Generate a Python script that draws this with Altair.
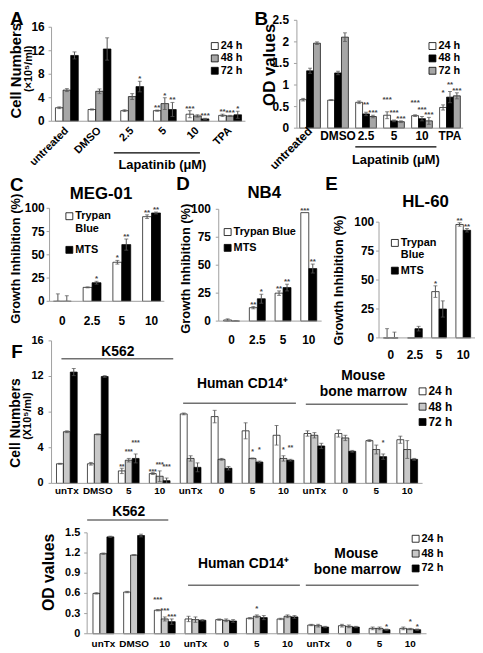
import altair as alt
import pandas as pd

FONT = "Liberation Sans"
EC = "#555555"
AX = "#a0a0a0"
M = 8

# ---------------- data ----------------
A_groups = ["untreated", "DMSO", "2.5", "5", "10", "TPA"]
A_series = ["24 h", "48 h", "72 h"]
A_24 = [2.3, 2.0, 1.8, 1.8, 1.2, 1.0]
A_24e = [0.15, 0.1, 0.15, 0.1, 0.6, 0.2]
A_48 = [5.3, 5.1, 4.2, 3.0, 0.9, 0.9]
A_48e = [0.25, 0.4, 0.5, 1.0, 0.2, 0.1]
A_72 = [11.2, 12.3, 5.9, 2.0, 0.4, 1.1]
A_72e = [0.6, 1.9, 0.9, 1.2, 0.1, 0.6]
A_s24 = ["", "", "", "**", "***", "**"]
A_s48 = ["", "", "", "*", "", "***"]
A_s72 = ["", "", "*", "**", "***", "*"]

B_24 = [0.66, 0.65, 0.60, 0.30, 0.29, 0.48]
B_24e = [0.03, 0.01, 0.03, 0.08, 0.02, 0.06]
B_48 = [1.33, 1.28, 0.33, 0.17, 0.22, 0.72]
B_48e = [0.06, 0.04, 0.04, 0.02, 0.05, 0.13]
B_72 = [1.97, 2.11, 0.27, 0.15, 0.17, 0.75]
B_72e = [0.03, 0.10, 0.03, 0.02, 0.08, 0.07]
B_s24 = ["", "", "", "***", "***", "*"]
B_s48 = ["", "", "**", "***", "***", "**"]
B_s72 = ["", "", "***", "***", "***", "***"]

GI_groups = ["0", "2.5", "5", "10"]
GI_series = ["Trypan Blue", "MTS"]
C_TB = [0, 15, 42, 91]
C_TBe = [8, 0.5, 2, 2]
C_MTS = [0, 20, 61, 95]
C_MTSe = [6, 1.5, 6, 1]
C_sTB = ["", "", "*", "**"]
C_sMTS = ["", "*", "**", "**"]

D_TB = [1, 12, 25, 97]
D_TBe = [1, 1, 2, 0]
D_MTS = [0, 20, 30, 47]
D_MTSe = [0.5, 4, 3, 4]
D_sTB = ["", "**", "**", "***"]
D_sMTS = ["", "*", "**", "**"]

E_TB = [0, 0, 40, 98]
E_TBe = [8, 0, 5, 1.5]
E_MTS = [0, 8, 25, 93]
E_MTSe = [5, 2, 7, 1.5]
E_sTB = ["", "", "*", "**"]
E_sMTS = ["", "", "", "**"]

F_groups = ["K_unTx", "K_DMSO", "K_5", "K_10", "H_unTx", "H_0", "H_5", "H_10",
            "M_unTx", "M_0", "M_5", "M_10"]
F_labels = ["unTx", "DMSO", "5", "10", "unTx", "0", "5", "10", "unTx", "0", "5", "10"]
F_24 = [2.2, 2.2, 1.4, 1.1, 7.8, 7.5, 5.9, 5.4, 5.6, 5.6, 4.8, 4.9]
F_24e = [0.05, 0.15, 0.3, 0.1, 0.1, 0.7, 0.9, 1.1, 0.3, 0.4, 0.1, 0.4]
F_48 = [5.8, 5.5, 2.6, 0.8, 2.8, 2.7, 2.8, 2.8, 5.4, 5.1, 3.8, 3.8]
F_48e = [0.1, 0.05, 0.2, 0.6, 0.3, 0.1, 0.05, 0.3, 0.3, 0.3, 0.5, 1.0]
F_72 = [12.5, 12.0, 2.8, 0.3, 1.8, 1.7, 2.4, 2.6, 4.2, 3.6, 3.0, 2.7]
F_72e = [0.4, 0.1, 0.5, 0.3, 0.5, 0.2, 0.1, 0.1, 0.3, 0.1, 0.3, 0.1]
F_s24 = ["", "", "**", "***", "", "", "", "", "", "", "", ""]
F_s48 = ["", "", "***", "***", "", "", "*", "*", "", "", "", ""]
F_s72 = ["", "", "***", "***", "", "", "*", "**", "", "", "*", ""]

G_groups = ["K_unTx", "K_DMSO", "K_10", "H_unTx", "H_0", "H_5", "H_10",
            "M_unTx", "M_0", "M_5", "M_10"]
G_labels = ["unTx", "DMSO", "10", "unTx", "0", "5", "10", "unTx", "0", "5", "10"]
G_24 = [0.60, 0.62, 0.35, 0.22, 0.21, 0.23, 0.22, 0.13, 0.12, 0.08, 0.08]
G_24e = [0.01, 0.01, 0.01, 0.04, 0.01, 0.01, 0.01, 0.01, 0.02, 0.02, 0.02]
G_48 = [1.19, 1.17, 0.22, 0.21, 0.20, 0.26, 0.26, 0.12, 0.11, 0.08, 0.07]
G_48e = [0.01, 0.005, 0.03, 0.04, 0.02, 0.02, 0.02, 0.02, 0.02, 0.02, 0.01]
G_72 = [1.44, 1.46, 0.18, 0.20, 0.19, 0.24, 0.25, 0.10, 0.10, 0.06, 0.06]
G_72e = [0.01, 0.02, 0.04, 0.01, 0.02, 0.03, 0.02, 0.01, 0.01, 0.01, 0.01]
G_s24 = ["", "", "***", "", "", "", "", "", "", "", ""]
G_s48 = ["", "", "***", "", "", "*", "", "", "", "", "*"]
G_s72 = ["", "", "***", "", "", "", "", "", "", "*", "*"]

A_ticks = [0, 4, 8, 12, 16]
B_ticks = [0, 0.5, 1, 1.5, 2, 2.5]
B_tlab = ["0", "0.5", "1", "1.5", "2", "2.5"]
GI_ticks = [0, 25, 50, 75, 100]
G_ticks = [0, 0.3, 0.6, 0.9, 1.2, 1.5]
G_tlab = ["0", "0.3", "0.6", "0.9", "1.2", "1.5"]


# ---------------- helpers ----------------
def P(v):
    return v - M


def band_width(xr, n, pi, po):
    step = (xr[1] - xr[0]) / (n - pi + 2 * po)
    return step * (1 - pi)


ONE = pd.DataFrame({"k": [0]})


def txt(s, x, y, size=12, angle=0, align="center", baseline="middle", weight="bold"):
    return alt.Chart(pd.DataFrame({"t": [s]})).mark_text(
        font=FONT, fontSize=size, fontWeight=weight, angle=angle, align=align,
        baseline=baseline, color="black").encode(
        x=alt.value(P(x)), y=alt.value(P(y)), text="t:N")


def hline(x0, x1, y, color="#707070", w=1.5):
    return alt.Chart(ONE).mark_rule(color=color, strokeWidth=w).encode(
        x=alt.value(P(x0)), x2=alt.value(P(x1)), y=alt.value(P(y)))


def panel(groups, labels, series, colors, vals, errs, stars, xr, pi, po,
          ytop, yr, ticks, ticklabs, tick_x, ytick_size, xlab_y, xlab_size,
          rotated=(), rot_y=None, star_size=8, stagger=0):
    rows = []
    for s, vs, es, ss in zip(series, vals, errs, stars):
        for g, v, e, st in zip(groups, vs, es, ss):
            rows.append(dict(grp=g, ser=s, v=v, lo=max(0.0, v - e), hi=v + e, e=e, star=st))
    df = pd.DataFrame(rows)
    bw = band_width(xr, len(groups), pi, po)
    X = alt.X("grp:N", sort=groups, axis=None,
              scale=alt.Scale(domain=groups, range=[P(xr[0]), P(xr[1])],
                              paddingInner=pi, paddingOuter=po))
    XO = alt.XOffset("ser:N", sort=series,
                     scale=alt.Scale(domain=series, range=[0, bw], paddingInner=0, paddingOuter=0))
    ys = alt.Scale(domain=[0, ytop], range=[P(yr[0]), P(yr[1])], nice=False, zero=False)

    def Y(f):
        return alt.Y(f, scale=ys, axis=None)

    Fl = alt.Fill("ser:N", sort=series, scale=alt.Scale(domain=series, range=colors), legend=None)
    bars = alt.Chart(df).mark_bar(stroke="black", strokeWidth=0.7).encode(
        x=X, xOffset=XO, y=Y("v:Q"), fill=Fl)
    de = df[df.e > 0]
    err = alt.Chart(de).mark_rule(color=EC, strokeWidth=1).encode(
        x=X, xOffset=XO, y=Y("lo:Q"), y2="hi:Q")
    caph = alt.Chart(de).mark_tick(color=EC, orient="horizontal", size=4, thickness=1).encode(
        x=X, xOffset=XO, y=Y("hi:Q"))
    capl = alt.Chart(de).mark_tick(color=EC, orient="horizontal", size=4, thickness=1).encode(
        x=X, xOffset=XO, y=Y("lo:Q"))
    layers = [bars, err, caph, capl]
    n = len(series)
    for i, s in enumerate(series):
        ds = df[(df.star != "") & (df.ser == s)]
        if len(ds):
            off = -stagger * (n - 1 - i) if stagger >= 0 else stagger * i
            layers.append(alt.Chart(ds).mark_text(
                font=FONT, fontSize=star_size, fontWeight="bold", color="#444",
                baseline="bottom", dy=2 + off).encode(
                x=X, xOffset=XO, y=Y("hi:Q"), text="star:N"))
    tk = pd.DataFrame({"t": ticks, "lab": ticklabs})
    yline = alt.Chart(pd.DataFrame({"a": [0], "b": [ytop]})).mark_rule(color=AX).encode(
        x=alt.value(P(xr[0])), y=Y("a:Q"), y2="b:Q")
    ytk = alt.Chart(tk).mark_rule(color=AX).encode(
        x=alt.value(P(xr[0]) - 3), x2=alt.value(P(xr[0])), y=Y("t:Q"))
    ylab = alt.Chart(tk).mark_text(font=FONT, fontSize=ytick_size, fontWeight="bold",
                                   align="right", baseline="middle").encode(
        x=alt.value(P(tick_x)), y=Y("t:Q"), text="lab:N")
    xline = alt.Chart(pd.DataFrame({"a": [0]})).mark_rule(color=AX).encode(
        x=alt.value(P(xr[0])), x2=alt.value(P(xr[1])), y=Y("a:Q"))
    layers += [yline, ytk, ylab, xline]
    xl = pd.DataFrame({"grp": groups, "lab": labels})
    flat = xl[~xl.grp.isin(list(rotated))]
    if len(flat):
        layers.append(alt.Chart(flat).mark_text(
            font=FONT, fontSize=xlab_size, fontWeight="bold", align="center", baseline="middle").encode(
            x=X, y=alt.value(P(xlab_y)), text="lab:N"))
    rot = xl[xl.grp.isin(list(rotated))]
    if len(rot):
        layers.append(alt.Chart(rot).mark_text(
            font=FONT, fontSize=xlab_size, fontWeight="bold", align="right", baseline="middle",
            angle=315).encode(
            x=X, y=alt.value(P(rot_y)), text="lab:N"))
    return alt.layer(*layers)


def legend(series, labels, colors, x, y0, y1, size=11, box=49):
    d = pd.DataFrame({"ser": series, "lab": labels})
    Yl = alt.Y("ser:N", sort=series, axis=None,
               scale=alt.Scale(type="point", domain=series, range=[P(y0), P(y1)], padding=0))
    Fl = alt.Fill("ser:N", sort=series, scale=alt.Scale(domain=series, range=colors), legend=None)
    boxes = alt.Chart(d).mark_square(size=box, stroke="black", strokeWidth=0.8, opacity=1,
                                     fillOpacity=1).encode(x=alt.value(P(x)), y=Yl, fill=Fl)
    labs = alt.Chart(d).mark_text(font=FONT, fontSize=size, fontWeight="bold", align="left",
                                  baseline="middle").encode(
        x=alt.value(P(x + 6)), y=Yl, text="lab:N")
    return alt.layer(boxes, labs)


GRAY = "#a6a6a6"
LGRAY = "#c8c8c8"

pA = panel(A_groups, A_groups, A_series, ["white", GRAY, "black"],
           [A_24, A_48, A_72], [A_24e, A_48e, A_72e], [A_s24, A_s48, A_s72],
           [52, 248], 0.3, 0.12, 16, [119, 24], A_ticks, [str(t) for t in A_ticks], 45, 12,
           130, 11, rotated=A_groups, rot_y=127)
pB = panel(A_groups, A_groups, A_series, ["white", "black", GRAY],
           [B_24, B_48, B_72], [B_24e, B_48e, B_72e], [B_s24, B_s48, B_s72],
           [300, 468], 0.26, 0.1, 2.5, [126, 17], B_ticks, B_tlab, 292, 12,
           134, 12, rotated=["untreated"], rot_y=127, stagger=5)
pC = panel(GI_groups, GI_groups, GI_series, ["white", "black"],
           [C_TB, C_MTS], [C_TBe, C_MTSe], [C_sTB, C_sMTS],
           [50, 166], 0.4, 0.13, 100, [301, 207], GI_ticks, [str(t) for t in GI_ticks], 45, 12,
           321, 12)
pD = panel(GI_groups, GI_groups, GI_series, ["white", "black"],
           [D_TB, D_MTS], [D_TBe, D_MTSe], [D_sTB, D_sMTS],
           [221, 325], 0.38, 0.19, 100, [321, 208], GI_ticks, [str(t) for t in GI_ticks], 213, 12,
           340, 12)
pE = panel(GI_groups, GI_groups, GI_series, ["white", "black"],
           [E_TB, E_MTS], [E_TBe, E_MTSe], [E_sTB, E_sMTS],
           [383, 480], 0.39, 0.18, 100, [338, 221], GI_ticks, [str(t) for t in GI_ticks], 378, 12,
           355, 12)
pF = panel(F_groups, F_labels, A_series, ["white", LGRAY, "black"],
           [F_24, F_48, F_72], [F_24e, F_48e, F_72e], [F_s24, F_s48, F_s72],
           [52, 427], 0.33, 0.16, 16, [485, 341], A_ticks, [str(t) for t in A_ticks], 44, 11,
           493, 10, stagger=-5, star_size=7)
pG = panel(G_groups, G_labels, A_series, ["white", LGRAY, "black"],
           [G_24, G_48, G_72], [G_24e, G_48e, G_72e], [G_s24, G_s48, G_s72],
           [88, 431], 0.32, 0.19, 1.5, [637, 535], G_ticks, G_tlab, 81, 11,
           647, 10, stagger=4)

legs = [
    legend(A_series, A_series, ["white", GRAY, "black"], 217, 43, 68),
    legend(A_series, A_series, ["white", "black", GRAY], 437, 43, 68),
    legend(GI_series, ["Trypan", "MTS"], ["white", "black"], 70, 215, 249, size=11),
    legend(GI_series, ["Trypan Blue", "MTS"], ["white", "black"], 230, 231, 247, size=11),
    legend(GI_series, ["Trypan", "MTS"], ["white", "black"], 399, 242, 270, size=11),
    legend(A_series, A_series, ["white", LGRAY, "black"], 427, 392, 423, size=12),
    legend(A_series, A_series, ["white", LGRAY, "black"], 420, 541, 571, size=11),
]

notes = [
    txt("A", 17, 16, 19), txt("B", 264, 16, 19), txt("C", 17, 184, 19),
    txt("D", 185, 183, 19), txt("E", 335, 183, 19), txt("F", 17, 352, 19),
    txt("Cell Numbers", 16, 68, 15, angle=270),
    txt("(×10⁵/ml)", 29, 66, 11, angle=270),
    hline(115, 202, 151, color="black", w=1.2),
    txt("Lapatinib (μM)", 164, 163, 13),
    txt("OD values", 273, 62, 17, angle=270),
    hline(359, 441, 145, color="black", w=1.2),
    txt("Lapatinib (μM)", 400, 158, 13),
    txt("MEG-01", 102, 193, 17), txt("NB4", 267, 192, 17), txt("HL-60", 430, 201, 17),
    txt("Growth Inhibition (%)", 16, 258, 13, angle=270),
    txt("Growth Inhibition (%)", 188, 268, 13, angle=270),
    txt("Growth Inhibition (%)", 343, 280, 13, angle=270),
    txt("Blue", 76, 228, 11, align="left"),
    txt("Blue", 405, 254, 11, align="left"),
    txt("Cell Numbers", 16, 424, 14, angle=270),
    txt("(X10⁵/ml)", 28, 417, 11, angle=270),
    txt("K562", 119, 352, 14), hline(62, 175, 359),
    txt("Human CD14⁺", 245, 385, 14), hline(185, 299, 404),
    txt("Mouse", 367, 377, 14), txt("bone marrow", 367, 393, 14), hline(309, 412, 405),
    txt("OD values", 49, 575, 16, angle=270),
    txt("K562", 130, 514, 14), hline(88, 170, 522),
    txt("Human CD14⁺", 246, 567, 14), hline(190, 303, 588),
    txt("Mouse", 360, 556, 14), txt("bone marrow", 361, 573, 14), hline(309, 423, 588),
]

chart = alt.layer(pA, pB, pC, pD, pE, pF, pG, *legs, *notes).resolve_scale(
    x="independent", y="independent", fill="independent", xOffset="independent"
).properties(
    width=472, height=645, padding=0, autosize=alt.AutoSizeParams(type="none")
).configure_view(stroke=None)

chart.save("out.html", embed_options={"renderer": "svg", "actions": False})
